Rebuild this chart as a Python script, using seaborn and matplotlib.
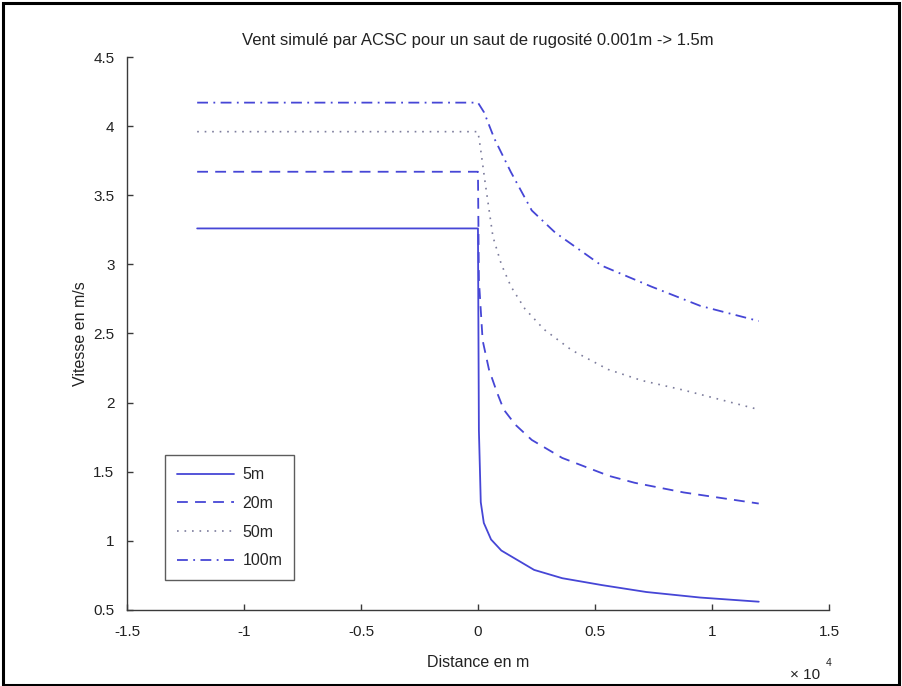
import matplotlib
matplotlib.use("Agg")
import matplotlib.pyplot as plt
from matplotlib.patches import Rectangle
import numpy as np
import pandas as pd
import seaborn as sns

# Distance in units of 10^4 m, wind speed in m/s
x_5m = [-1.2, 0.0, 0.004, 0.012, 0.025, 0.056, 0.10, 0.16, 0.24, 0.36, 0.53, 0.72, 0.95, 1.2]
v_5m = [3.26, 3.26, 1.80, 1.28, 1.13, 1.01, 0.93, 0.87, 0.79, 0.73, 0.68, 0.63, 0.59, 0.56]

x_20m = [-1.2, 0.0, 0.004, 0.02, 0.047, 0.08, 0.11, 0.16, 0.23, 0.36, 0.56, 0.67, 0.88, 1.2]
v_20m = [3.67, 3.67, 2.89, 2.45, 2.24, 2.08, 1.95, 1.84, 1.73, 1.60, 1.47, 1.42, 1.35, 1.27]

x_50m = [-1.2, 0.0, 0.01, 0.03, 0.064, 0.10, 0.141, 0.2, 0.282, 0.4, 0.556, 0.7, 0.88, 1.2]
v_50m = [3.96, 3.96, 3.85, 3.60, 3.20, 3.00, 2.84, 2.68, 2.53, 2.38, 2.24, 2.16, 2.09, 1.95]

x_100m = [-1.2, 0.0, 0.026, 0.07, 0.14, 0.23, 0.33, 0.53, 0.74, 0.95, 1.2]
v_100m = [4.17, 4.17, 4.10, 3.91, 3.67, 3.39, 3.23, 2.99, 2.84, 2.70, 2.59]

labels = ["5m", "20m", "50m", "100m"]
xs = [x_5m, x_20m, x_50m, x_100m]
vs = [v_5m, v_20m, v_50m, v_100m]

x_ticks = [-1.5, -1, -0.5, 0, 0.5, 1, 1.5]
x_ticklabels = ["-1.5", "-1", "-0.5", "0", "0.5", "1", "1.5"]
y_ticks = [0.5, 1, 1.5, 2, 2.5, 3, 3.5, 4, 4.5]
y_ticklabels = ["0.5", "1", "1.5", "2", "2.5", "3", "3.5", "4", "4.5"]

df = pd.concat(
    [pd.DataFrame({"distance": x, "vitesse": v, "hauteur": lab}) for x, v, lab in zip(xs, vs, labels)],
    ignore_index=True,
)

sns.set_theme(style="white")
plt.rcParams["font.family"] = ["Liberation Sans", "DejaVu Sans"]
plt.rcParams["font.size"] = 11

fig = plt.figure(figsize=(9.03, 6.86), dpi=100)
ax = fig.add_axes([0.1406, 0.1108, 0.7774, 0.8061])

blue = "#4646d6"
styles = {
    "5m": dict(color=blue, ls="-", lw=1.3),
    "20m": dict(color=blue, ls=(0, (6, 4)), lw=1.3),
    "50m": dict(color="#7c7c9c", ls=(0, (1, 3.5)), lw=1.2),
    "100m": dict(color=blue, ls=(0, (6, 3, 1, 3)), lw=1.3),
}

for lab in labels:
    sub = df[df["hauteur"] == lab]
    st = styles[lab]
    sns.lineplot(data=sub, x="distance", y="vitesse", ax=ax, estimator=None, sort=False,
                 color=st["color"], linestyle=st["ls"], linewidth=st["lw"], label=lab)

ax.set_xlim(-1.5, 1.5)
ax.set_ylim(0.5, 4.5)
ax.set_xticks(x_ticks)
ax.set_xticklabels(x_ticklabels)
ax.set_yticks(y_ticks)
ax.set_yticklabels(y_ticklabels)

for side in ["top", "right"]:
    ax.spines[side].set_visible(False)
for side in ["left", "bottom"]:
    ax.spines[side].set_color("#3a3a3a")
    ax.spines[side].set_linewidth(1.0)

ax.tick_params(axis="both", direction="in", length=4, width=1, color="#3a3a3a",
               labelsize=11, labelcolor="#222222")
ax.tick_params(axis="x", bottom=True, pad=11)
ax.tick_params(axis="y", left=True, pad=9)

ax.set_xlabel("Distance en m", fontsize=11.5, color="#222222", labelpad=11)
ax.set_ylabel("Vitesse en m/s", fontsize=11.5, color="#222222", labelpad=4)
ax.set_title("Vent simulé par ACSC pour un saut de rugosité 0.001m -> 1.5m",
             fontsize=12, color="#222222", pad=9)

leg = ax.legend(loc="lower left", bbox_to_anchor=(0.054, 0.054), frameon=True, fancybox=False,
                edgecolor="#333333", fontsize=11.5, handlelength=3.6, handletextpad=0.5,
                labelspacing=0.85, borderpad=0.75, borderaxespad=0)
leg.get_frame().set_linewidth(1.0)

# scale factor of the distance axis
fig.text(0.875, 0.006, "× 10", fontsize=11, color="#222222", ha="left", va="bottom")
fig.text(0.914, 0.026, "4", fontsize=7.5, color="#222222", ha="left", va="bottom")

# outer frame
fig.patches.append(Rectangle((0.003, 0.002), 0.993, 0.994, transform=fig.transFigure,
                             fill=False, edgecolor="black", linewidth=2.2))

fig.savefig("out.png", dpi=100, facecolor="white")
